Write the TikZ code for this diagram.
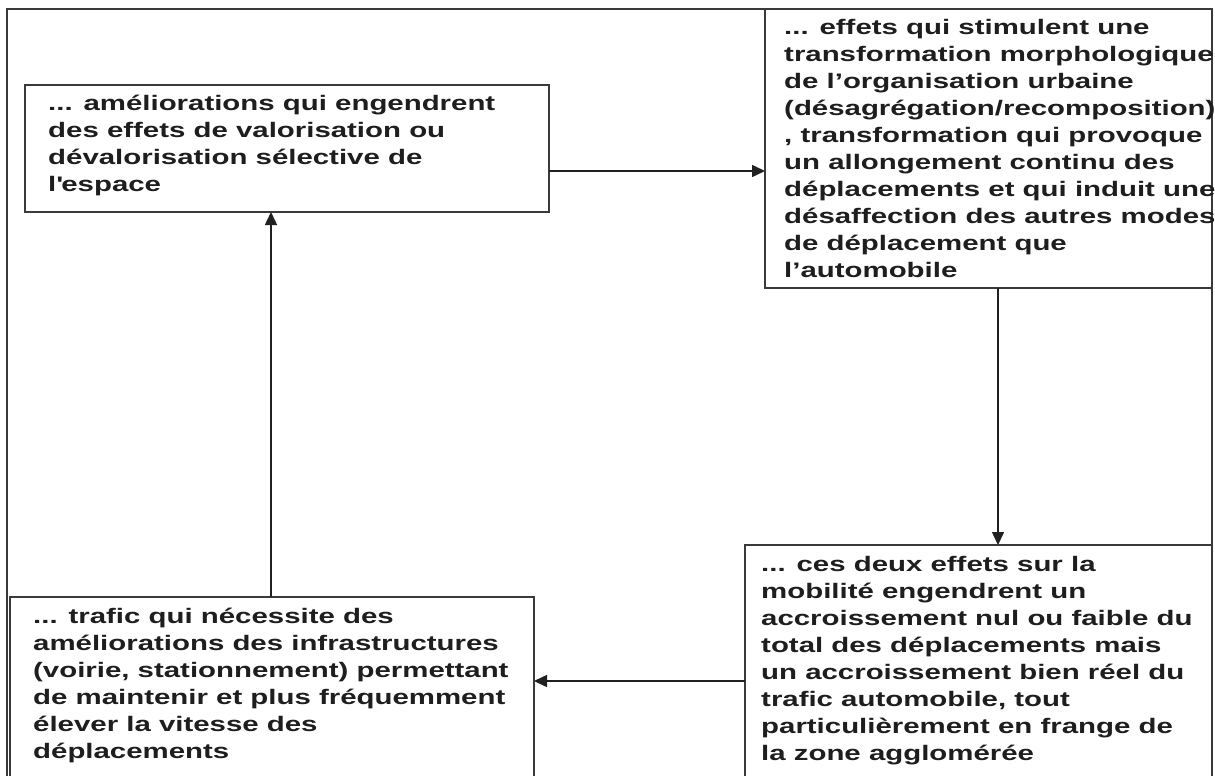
\documentclass[tikz,border=0pt]{standalone}
\usepackage{fontspec}
\setmainfont[FakeStretch=1.4]{Liberation Sans}
\usetikzlibrary{arrows.meta}
\definecolor{boxgray}{HTML}{3A3A3A}
\definecolor{textgray}{HTML}{1E1E1E}
\definecolor{arrowgray}{HTML}{202020}
\begin{document}
\begin{tikzpicture}[x=1pt,y=-1pt,
  frame/.style={draw=boxgray, line width=2pt, inner sep=0pt, outer sep=0pt, anchor=north west},
  txt/.style={anchor=north west, align=left, inner sep=0pt, text=textgray,
    font=\fontsize{21}{27}\selectfont\bfseries, execute at begin node={\rule{0pt}{21pt}}},
  flow/.style={draw=arrowgray, line width=1.5pt, -{Triangle[length=13pt,width=12pt]}}]
\useasboundingbox (0,0) rectangle (1215,776);
\fill[white] (0,0) rectangle (1215,776);
\clip (0,0) rectangle (1215,776);

% outer frame
\draw[boxgray, line width=2pt] (7,9) rectangle (1212,800);

% the four stages of the loop
\node[frame, minimum width=524pt, minimum height=127pt] (b1) at (25,85) {};
\node[frame, minimum width=447pt, minimum height=279pt] (b2) at (765,9) {};
\node[frame, minimum width=467pt, minimum height=260pt] (b3) at (745,545) {};
\node[frame, minimum width=524pt, minimum height=220pt] (b4) at (10,597) {};

\node[txt] (t1) at ([shift={(23,10)}]b1.north west)
  {... améliorations qui engendrent\\des effets de valorisation ou\\dévalorisation sélective de\\l\textquotesingle espace};
\node[txt] (t2) at ([shift={(19,10)}]b2.north west)
  {... effets qui stimulent une\\transformation morphologique\\de l’organisation urbaine\\(désagrégation/recomposition)\\, transformation qui provoque\\un allongement continu des\\déplacements et qui induit une\\désaffection des autres modes\\de déplacement que\\l’automobile};
\node[txt] (t3) at ([shift={(16,11)}]b3.north west)
  {... ces deux effets sur la\\mobilité engendrent un\\accroissement nul ou faible du\\total des déplacements mais\\un accroissement bien réel du\\trafic automobile, tout\\particulièrement en frange de\\la zone agglomérée};
\node[txt] (t4) at ([shift={(23,11)}]b4.north west)
  {... trafic qui nécessite des\\améliorations des infrastructures\\(voirie, stationnement) permettant\\de maintenir et plus fréquemment\\élever la vitesse des\\déplacements};

% connector lanes
\coordinate (h1) at (0,171);
\coordinate (v2) at (998,0);
\coordinate (h3) at (0,681);
\coordinate (v4) at (271,0);

\draw[flow] (b1.east |- h1) -- (b2.west |- h1);
\draw[flow] (b2.south -| v2) -- (b3.north -| v2);
\draw[flow] (b3.west |- h3) -- (b4.east |- h3);
\draw[flow] (b4.north -| v4) -- (b1.south -| v4);
\end{tikzpicture}
\end{document}
